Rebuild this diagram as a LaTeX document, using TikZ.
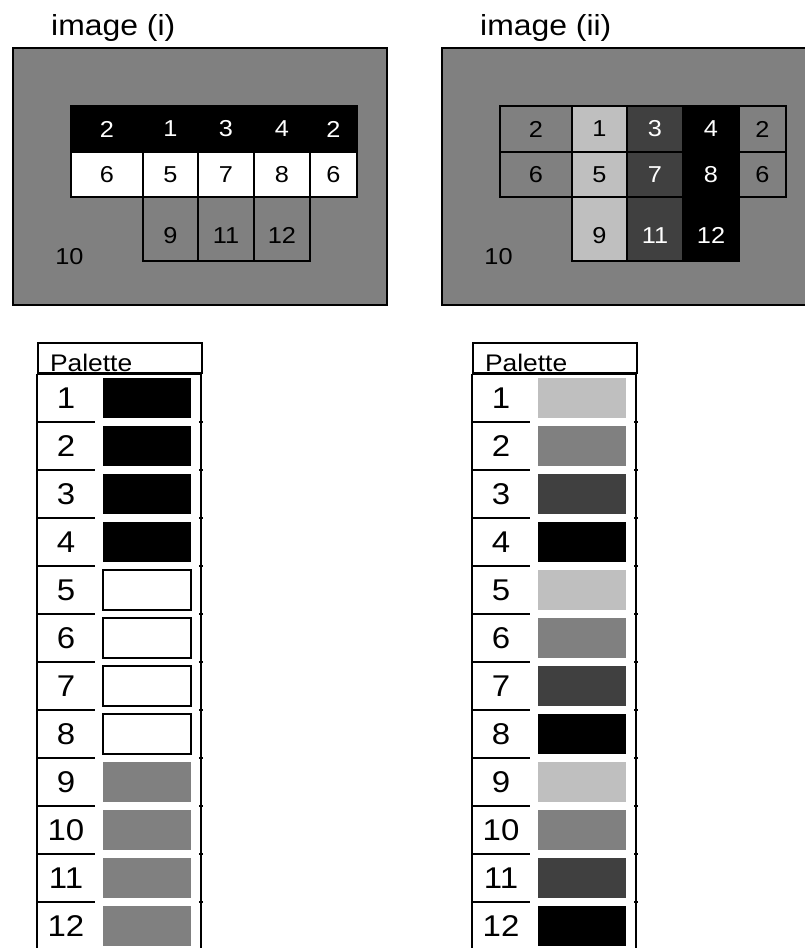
\documentclass[tikz,border=0pt]{standalone}
\usepackage{fontspec}
\setmainfont{Liberation Sans}[FakeStretch=1.1]
\usetikzlibrary{positioning}
\definecolor{pgray}{gray}{0.5}
\definecolor{plight}{gray}{0.75}
\definecolor{pdark}{gray}{0.25}

\begin{document}
\begin{tikzpicture}[x=1pt, y=-1pt,
    frame/.style={
        draw, line width=1.6pt, fill=pgray,
        anchor=north west, inner sep=0pt, outer sep=0pt,
        minimum width=374pt, minimum height=257pt
    },
    title/.style={anchor=base west, inner sep=0pt, font=\fontsize{29}{34}\selectfont},
    cell/.style={
        draw, line width=1.4pt, anchor=north west,
        inner sep=0pt, outer sep=0pt,
        font=\fontsize{23}{27}\selectfont
    },
    toprow/.style={cell, minimum height=46pt},
    midrow/.style={cell, minimum height=45pt},
    lowrow/.style={cell, minimum height=64pt, text height=28pt, text depth=0pt},
    head/.style={
        draw, line width=1.6pt, anchor=north west, outer sep=0pt,
        inner xsep=12pt, inner ysep=0pt, text width=140pt,
        minimum height=30pt, text height=26pt, text depth=0pt,
        align=left, font=\fontsize{24}{28}\selectfont
    },
    num/.style={
        anchor=north west, inner sep=0pt, outer sep=0pt,
        minimum width=58pt, minimum height=48pt,
        font=\fontsize{30}{36}\selectfont
    },
    swatch/.style={inner sep=0pt, outer sep=0pt, line width=1.6pt, minimum width=88pt, minimum height=40pt},
    rule/.style={line width=1.6pt}
]
\useasboundingbox (0,0) rectangle (804,948);

% image (i)
\node[title] (ia-title) at (51,35) {image (i)};
\node[frame] (ia) at (13,48) {};
\node[toprow, fill=black, text=white, minimum width=72pt] (a11) at (71,106) {2};
\node[toprow, fill=black, text=white, minimum width=55pt, right=0pt of a11] (a12) {1};
\node[toprow, fill=black, text=white, minimum width=56pt, right=0pt of a12] (a13) {3};
\node[toprow, fill=black, text=white, minimum width=56pt, right=0pt of a13] (a14) {4};
\node[toprow, fill=black, text=white, minimum width=47pt, right=0pt of a14] (a15) {2};
\node[midrow, fill=white, minimum width=72pt, below=0pt of a11] (a21) {6};
\node[midrow, fill=white, minimum width=55pt, right=0pt of a21] (a22) {5};
\node[midrow, fill=white, minimum width=56pt, right=0pt of a22] (a23) {7};
\node[midrow, fill=white, minimum width=56pt, right=0pt of a23] (a24) {8};
\node[midrow, fill=white, minimum width=47pt, right=0pt of a24] (a25) {6};
\node[lowrow, fill=pgray, minimum width=55pt, below=0pt of a22] (a32) {9};
\node[lowrow, fill=pgray, minimum width=56pt, right=0pt of a32] (a33) {11};
\node[lowrow, fill=pgray, minimum width=56pt, right=0pt of a33] (a34) {12};
\node[cell, draw=none, anchor=center] (a-bg) at (69.5,256.5) {10};

% image (ii)
\node[title] (ib-title) at (480,35) {image (ii)};
\node[frame] (ib) at (442,48) {};
\node[toprow, fill=pgray, minimum width=72pt] (b11) at (500,106) {2};
\node[toprow, fill=plight, minimum width=55pt, right=0pt of b11] (b12) {1};
\node[toprow, fill=pdark, text=white, minimum width=56pt, right=0pt of b12] (b13) {3};
\node[toprow, fill=black, text=white, minimum width=56pt, right=0pt of b13] (b14) {4};
\node[toprow, fill=pgray, minimum width=47pt, right=0pt of b14] (b15) {2};
\node[midrow, fill=pgray, minimum width=72pt, below=0pt of b11] (b21) {6};
\node[midrow, fill=plight, minimum width=55pt, right=0pt of b21] (b22) {5};
\node[midrow, fill=pdark, text=white, minimum width=56pt, right=0pt of b22] (b23) {7};
\node[midrow, fill=black, text=white, minimum width=56pt, right=0pt of b23] (b24) {8};
\node[midrow, fill=pgray, minimum width=47pt, right=0pt of b24] (b25) {6};
\node[lowrow, fill=plight, minimum width=55pt, below=0pt of b22] (b32) {9};
\node[lowrow, fill=pdark, text=white, minimum width=56pt, right=0pt of b32] (b33) {11};
\node[lowrow, fill=black, text=white, minimum width=56pt, right=0pt of b33] (b34) {12};
\node[cell, draw=none, anchor=center] (b-bg) at (498.5,256.5) {10};

% palette of image (i)
\node[head] (pa-head) at (38,343) {Palette};
\draw[rule] (37,374) -- (201,374);
\draw[rule] (37,374) -- (37,950);
\draw[rule] (201,374) -- (201,950);
\foreach \k/\c/\d in {1/black/none, 2/black/none, 3/black/none, 4/black/none,
                      5/white/black, 6/white/black, 7/white/black, 8/white/black,
                      9/pgray/none, 10/pgray/none, 11/pgray/none, 12/pgray/none} {
    \node[num] (pa-n\k) at (37,{326+48*\k}) {\k};
    \node[swatch, fill=\c, draw=\d, right=8pt of pa-n\k] (pa-s\k) {};
    \draw[rule] (pa-n\k.south west) -- (pa-n\k.south east);
    \draw[rule] ([xshift=8pt]pa-s\k.east |- pa-n\k.south) -- ++(4,0);
}

% palette of image (ii)
\begin{scope}[xshift=435pt]
\node[head] (pb-head) at (38,343) {Palette};
\draw[rule] (37,374) -- (201,374);
\draw[rule] (37,374) -- (37,950);
\draw[rule] (201,374) -- (201,950);
\foreach \k/\c in {1/plight, 2/pgray, 3/pdark, 4/black,
                   5/plight, 6/pgray, 7/pdark, 8/black,
                   9/plight, 10/pgray, 11/pdark, 12/black} {
    \node[num] (pb-n\k) at (37,{326+48*\k}) {\k};
    \node[swatch, fill=\c, right=8pt of pb-n\k] (pb-s\k) {};
    \draw[rule] (pb-n\k.south west) -- (pb-n\k.south east);
    \draw[rule] ([xshift=8pt]pb-s\k.east |- pb-n\k.south) -- ++(4,0);
}
\end{scope}
\end{tikzpicture}
\end{document}
